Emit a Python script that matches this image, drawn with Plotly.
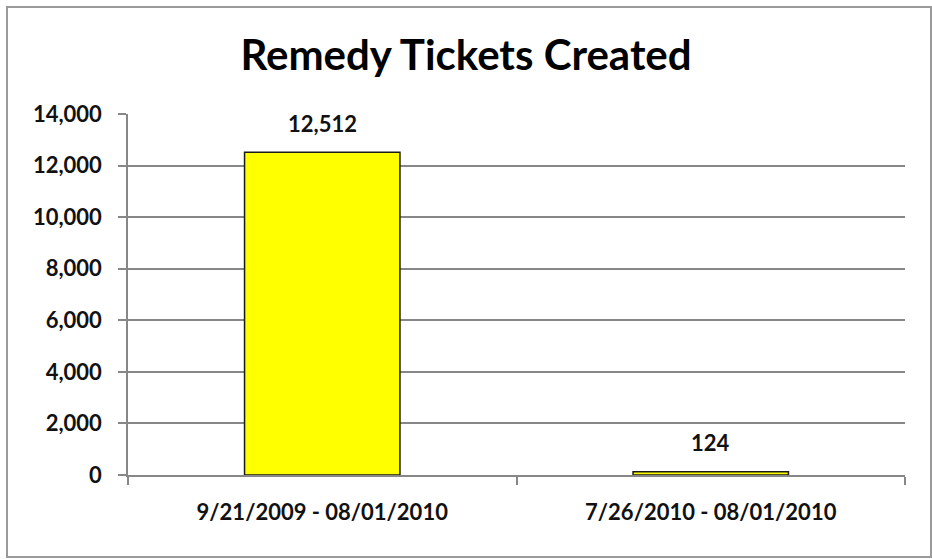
import plotly.graph_objects as go

categories = ["9/21/2009 - 08/01/2010", "7/26/2010 - 08/01/2010"]
tickets = [12512, 124]
y_ticks = [0, 2000, 4000, 6000, 8000, 10000, 12000, 14000]
y_tick_text = ["0", "2,000", "4,000", "6,000", "8,000", "10,000", "12,000", "14,000"]
title_text = "Remedy Tickets Created"

FONT = "Lato"
GRAY = "#878787"
FS = 22

fig = go.Figure()
fig.add_trace(go.Bar(
    x=categories, y=tickets,
    marker=dict(color="#FFFF00", line=dict(color="#1a1a1a", width=1.5)),
    hoverinfo="x+y",
))

for c, v in zip(categories, tickets):
    fig.add_annotation(x=c, y=v, text=f"<b>{v:,}</b>", showarrow=False,
                       yshift=29, yanchor="middle",
                       font=dict(family=FONT, size=FS, color="#111111"))

fig.update_layout(
    width=932, height=559,
    margin=dict(l=128, r=27, t=114, b=84),
    paper_bgcolor="white", plot_bgcolor="white",
    bargap=0.6,
    showlegend=False,
    title=dict(text=f"<b>{title_text}</b>", x=0.5, xref="container", xanchor="center",
               y=1 - 55 / 559, yref="container", yanchor="middle",
               font=dict(family=FONT, size=42, color="black")),
    font=dict(family=FONT, color="#111111"),
)

fig.update_xaxes(
    type="category",
    showline=True, linecolor=GRAY, linewidth=1.5,
    ticks="outside", tickson="boundaries", ticklen=8, tickcolor=GRAY, tickwidth=1.5,
    tickfont=dict(family=FONT, size=FS, color="#111111", weight="bold"),
    ticklabelstandoff=17,
    showgrid=False,
)
fig.update_yaxes(
    range=[0, 14000],
    tickvals=y_ticks, ticktext=y_tick_text,
    showline=True, linecolor=GRAY, linewidth=1.5,
    ticks="outside", ticklen=8, tickcolor=GRAY, tickwidth=1.5,
    showgrid=True, gridcolor=GRAY, gridwidth=1.5,
    zeroline=False,
    tickfont=dict(family=FONT, size=FS, color="#111111", weight="bold"),
    ticklabelstandoff=12,
)

# outer chart border
fig.add_shape(type="rect", xref="paper", yref="paper",
              x0=(7 - 128) / 777, x1=(931 - 128) / 777,
              y0=(475 - 557) / 361, y1=(475 - 7) / 361,
              line=dict(color="#9a9a9a", width=2), fillcolor="rgba(0,0,0,0)",
              layer="below")

fig.write_html("out.html", config={"displayModeBar": False},
               post_script="document.body.style.margin='0';")
